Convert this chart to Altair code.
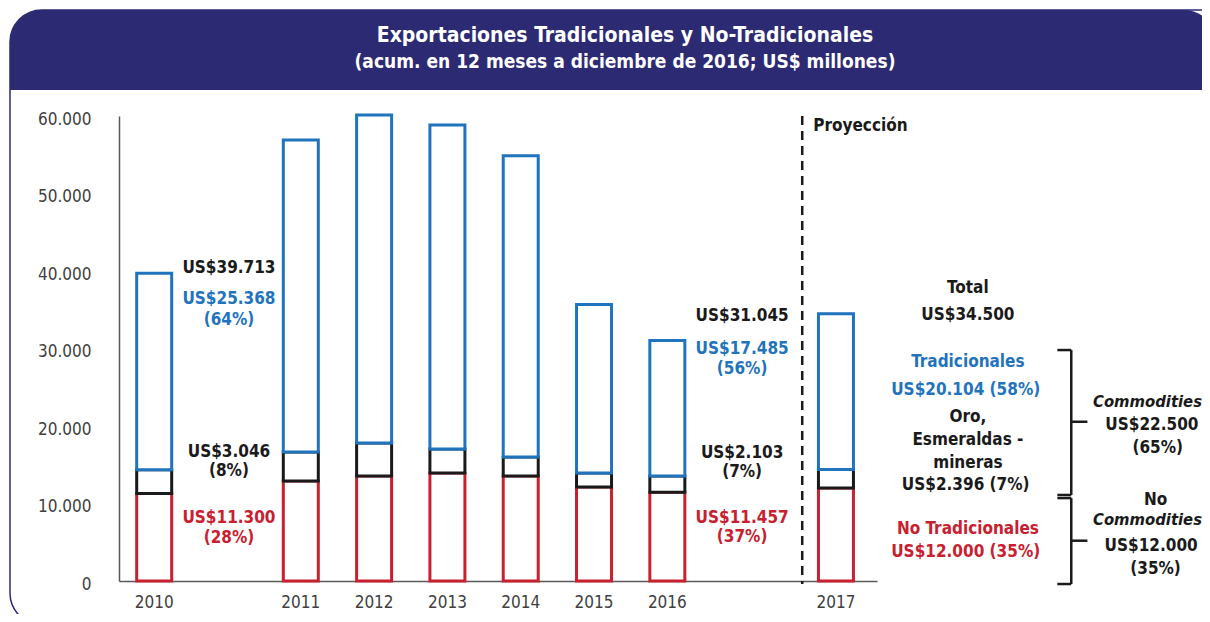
import altair as alt
import pandas as pd

# ---------------- data ----------------
years = ["2010", "2011", "2012", "2013", "2014", "2015", "2016", "2017"]
no_tradicionales = [11300, 12900, 13550, 13930, 13550, 12130, 11457, 12000]
oro_esmeraldas = [3046, 3740, 4250, 3100, 2450, 1800, 2103, 2396]
tradicionales = [25368, 40275, 42325, 41794, 38857, 21761, 17485, 20104]
totales = [39713, 56915, 60125, 58824, 54857, 35691, 31045, 34500]
commodities_2017 = 22500
y_ticks = [0, 10000, 20000, 30000, 40000, 50000, 60000]

title_1 = "Exportaciones Tradicionales y No-Tradicionales"
title_2 = "(acum. en 12 meses a diciembre de 2016; US$ millones)"

# ---------------- layout ----------------
slot = {"2010": 0.48, "2011": 2.48, "2012": 3.48, "2013": 4.48, "2014": 5.48,
        "2015": 6.48, "2016": 7.48, "2017": 9.78}
X_MAX = 10.34
W, H = 758, 465
FONT = "DejaVu Sans Condensed, DejaVu Sans"
BLUE, RED, BLACK, NAVY, GREY = "#1F74BD", "#C8202F", "#1A1A1A", "#2D2A74", "#404040"

def usd(v):
    return "US$" + f"{v:,}".replace(",", ".")

def pct(v, t):
    return f"({round(100 * v / t)}%)"

rows = []
for i, yr in enumerate(years):
    a = no_tradicionales[i]
    b = a + oro_esmeraldas[i]
    c = totales[i]
    rows.append(dict(year=yr, slot=slot[yr], seg="red", y0=0, y1=a))
    rows.append(dict(year=yr, slot=slot[yr], seg="black", y0=a, y1=b))
    rows.append(dict(year=yr, slot=slot[yr], seg="blue", y0=b, y1=c))
bars_df = pd.DataFrame(rows)

xscale = alt.Scale(domain=[0, X_MAX], nice=False, zero=False, padding=0)
yscale = alt.Scale(domain=[0, 60000], nice=False, zero=False, padding=0)
xaxis = alt.Axis(labels=False, ticks=False, grid=False, domain=True,
                 domainColor="#595959", domainWidth=1.5, title=None)
yaxis = alt.Axis(values=y_ticks, ticks=False, grid=False, domain=True,
                 domainColor="#595959", domainWidth=1.5, title=None,
                 labelFont=FONT, labelFontSize=17, labelColor=GREY,
                 labelPadding=28, labelOffset=3,
                 labelExpr="datum.value == 0 ? '0' : format(datum.value/1000, '.3f')")

def X(f):
    return alt.X(f, type="quantitative", scale=xscale, axis=xaxis)

def Y(f):
    return alt.Y(f, type="quantitative", scale=yscale, axis=yaxis)

one = pd.DataFrame({"a": [0]})

# frame + header (decoration, pixel positions)
frame = alt.Chart(one).mark_rect(fill=None, stroke=NAVY, strokeWidth=1.5, cornerRadius=32).encode(
    x=alt.value(-109), x2=alt.value(1130), y=alt.value(-106), y2=alt.value(509))
header = alt.Chart(one).mark_rect(fill=NAVY, cornerRadiusTopLeft=32, cornerRadiusTopRight=32).encode(
    x=alt.value(-109), x2=alt.value(1097), y=alt.value(-106), y2=alt.value(-26))
t1 = alt.Chart(one).mark_text(text=title_1, font=FONT, fontSize=21, fontWeight="bold",
                              color="white", align="center", baseline="middle").encode(
    x=alt.value(506), y=alt.value(-80))
t2 = alt.Chart(one).mark_text(text=title_2, font=FONT, fontSize=19, fontWeight="bold",
                              color="white", align="center", baseline="middle").encode(
    x=alt.value(506), y=alt.value(-54))

def bar_layer(seg, color):
    return alt.Chart(bars_df).transform_filter(alt.datum.seg == seg).mark_bar(
        size=35, fill="white", stroke=color, strokeWidth=3).encode(
        x=X("slot"), y=Y("y0"), y2="y1")

bars = [bar_layer("red", RED), bar_layer("black", BLACK), bar_layer("blue", BLUE)]

# year labels
year_df = pd.DataFrame({"slot": [slot[y] for y in years], "label": years, "yy": [-2850] * len(years)})
year_text = alt.Chart(year_df).mark_text(font=FONT, fontSize=17, color=GREY, baseline="middle").encode(
    x=X("slot"), y=Y("yy"), text="label:N")

# annotations
i10, i16, i17 = 0, 6, 7
ann = [
    (1.50, 40400, usd(totales[i10]), BLACK),
    (1.50, 36380, usd(tradicionales[i10]), BLUE),
    (1.50, 33670, pct(tradicionales[i10], totales[i10]), BLUE),
    (1.50, 16640, usd(oro_esmeraldas[i10]), BLACK),
    (1.50, 14190, pct(oro_esmeraldas[i10], totales[i10]), BLACK),
    (1.50, 8130, usd(no_tradicionales[i10]), RED),
    (1.50, 5550, pct(no_tradicionales[i10], totales[i10]), RED),
    (8.50, 34190, usd(totales[i16]), BLACK),
    (8.50, 29930, usd(tradicionales[i16]), BLUE),
    (8.50, 27350, pct(tradicionales[i16], totales[i16]), BLUE),
    (8.50, 16510, usd(oro_esmeraldas[i16]), BLACK),
    (8.50, 14060, pct(oro_esmeraldas[i16], totales[i16]), BLACK),
    (8.50, 8130, usd(no_tradicionales[i16]), RED),
    (8.50, 5680, pct(no_tradicionales[i16], totales[i16]), RED),
    (11.58, 37800, "Total", BLACK),
    (11.58, 34310, usd(totales[i17]), BLACK),
    (11.58, 28250, "Tradicionales", BLUE),
    (11.55, 24640, usd(tradicionales[i17]) + " " + pct(tradicionales[i17], totales[i17]), BLUE),
    (11.58, 21160, "Oro,", BLACK),
    (11.58, 18190, "Esmeraldas -", BLACK),
    (11.58, 15220, "mineras", BLACK),
    (11.55, 12380, usd(oro_esmeraldas[i17]) + " " + pct(oro_esmeraldas[i17], totales[i17]), BLACK),
    (11.58, 6710, "No Tradicionales", RED),
    (11.55, 3740, usd(no_tradicionales[i17]) + " " + pct(no_tradicionales[i17], totales[i17]), RED),
    (14.09, 20120, usd(commodities_2017), BLACK),
    (14.17, 17160, pct(commodities_2017, totales[i17]), BLACK),
    (14.14, 10450, "No", BLACK),
    (14.08, 4520, usd(no_tradicionales[i17]), BLACK),
    (14.14, 1550, pct(no_tradicionales[i17], totales[i17]), BLACK),
]
ann_df = pd.DataFrame(ann, columns=["slot", "yy", "label", "color"])
ann_text = alt.Chart(ann_df).mark_text(font=FONT, fontSize=17, fontWeight="bold",
                                       baseline="middle", align="center").encode(
    x=X("slot"), y=Y("yy"), text="label:N", color=alt.Color("color:N", scale=None))

ital_df = pd.DataFrame({"slot": [14.03, 14.03], "yy": [23090, 7870],
                        "label": ["Commodities", "Commodities"]})
ital_text = alt.Chart(ital_df).mark_text(font=FONT, fontSize=16.5, fontWeight="bold", fontStyle="italic",
                                         baseline="middle", align="center", color=BLACK).encode(
    x=X("slot"), y=Y("yy"), text="label:N")

proy_df = pd.DataFrame({"slot": [9.47], "yy": [58700], "label": ["Proyección"]})
proy_text = alt.Chart(proy_df).mark_text(font=FONT, fontSize=17, fontWeight="bold",
                                         baseline="middle", align="left", color=BLACK).encode(
    x=X("slot"), y=Y("yy"), text="label:N")

div_df = pd.DataFrame({"slot": [9.32], "ya": [60000], "yb": [-400]})
divider = alt.Chart(div_df).mark_rule(color=BLACK, strokeWidth=2.5, strokeDash=[9, 6]).encode(
    x=X("slot"), y=Y("ya"), y2="yb")

# curly brackets as rule segments
br = [
    (12.80, 12.99, 29800, 29800),
    (12.99, 12.99, 29800, 11100),
    (12.80, 12.99, 11100, 11100),
    (12.99, 13.21, 20550, 20550),
    (12.80, 12.99, 10700, 10700),
    (12.99, 12.99, 10700, -390),
    (12.80, 12.99, -390, -390),
    (12.99, 13.21, 5200, 5200),
]
br_df = pd.DataFrame(br, columns=["xa", "xb", "ya", "yb"])
brackets = alt.Chart(br_df).mark_rule(color=BLACK, strokeWidth=2.5).encode(
    x=X("xa"), x2="xb", y=Y("ya"), y2="yb")

chart = alt.layer(frame, header, t1, t2, *bars, year_text, divider, brackets,
                  ann_text, ital_text, proy_text).properties(
    width=W, height=H,
    autosize=alt.AutoSizeParams(type="none"),
    padding={"left": 111, "top": 108, "right": 325, "bottom": 33},
).configure_view(stroke=None)

chart.save("out.html", embed_options={"renderer": "svg", "actions": False})
